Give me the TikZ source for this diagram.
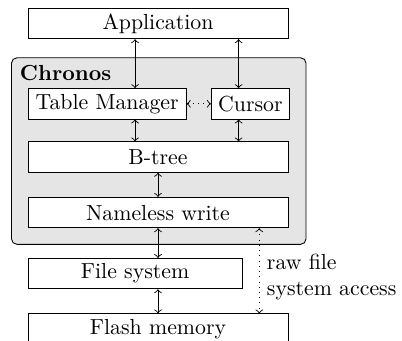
\documentclass[tikz,border=0pt]{standalone}
\usepackage{tikz}
\usetikzlibrary{arrows,positioning,backgrounds,fit}

\begin{document}
\begin{tikzpicture}
[node distance = 0.39cm, auto,
% STYLES
% The layer style is used to draw each level of the stack
layer/.style={rectangle, draw, fill=white, inner sep=2pt, minimum width=4.19cm, minimum height=0.49cm, text badly centered},
% The group style is used for the grey Chronos frame
group/.style={rectangle, draw, fill=black!10, rounded corners=2.5pt, inner sep=0.26cm},
link/.style={<->},
rawlink/.style={<->, dotted}]

\useasboundingbox (-2.547,0.379) rectangle (3.933,-5.102);

% Draw layers
\node [layer] (app) {Application};
\node [layer, minimum width=2.55cm, below right=0.79cm and 0cm of app.south west] (tm) {Table Manager};
\node [layer, minimum width=1.26cm, right=0.39cm of tm] (cursor) {Cursor};
\node [layer, below right=0.355cm and 0cm of tm.south west] (btree) {B-tree};
\node [layer, below=of btree] (nw) {Nameless write};
\node [layer, minimum width=3.45cm, below right=0.48cm and 0cm of nw.south west] (fs) {File system};
\node [layer, below right=0.39cm and 0cm of fs.south west] (flash) {Flash memory};

%%%%%%%%%%%%%%%
% Chronos frame
\coordinate (ctop) at ([yshift=0.23cm]tm.north);
\node [font=\bfseries, anchor=base west, inner sep=0pt] (chronos) at ([xshift=-0.13cm, yshift=0.13cm]tm.north west) {Chronos};
\begin{scope}[on background layer]
\node [group, fit=(ctop) (tm) (cursor) (nw)] (frame) {};
\end{scope}
%%%%%%%%%%%%%%%

% Draw the links between layers
\draw [link] ([xshift=0.45cm]tm.north) -- ([xshift=0.45cm]tm.north |- app.south);
\draw [link] ([xshift=-0.19cm]cursor.north) -- ([xshift=-0.19cm]cursor.north |- app.south);
\draw [link] ([xshift=0.45cm]tm.south) -- ([xshift=0.45cm]tm.south |- btree.north);
\draw [link] ([xshift=-0.19cm]cursor.south) -- ([xshift=-0.19cm]cursor.south |- btree.north);
\draw [rawlink] (tm) -- (cursor);
\path [link]
(btree) edge (nw)
(nw.south) edge (nw.south |- fs.north)
(flash.north |- fs.south) edge (flash.north);
\draw [rawlink] ([xshift=-0.47cm]nw.south east) -- ([xshift=-0.47cm]nw.south east |- flash.north)
node [right, align=left, pos=0.57] (access) {raw file\\system access};

\end{tikzpicture}
\end{document}
